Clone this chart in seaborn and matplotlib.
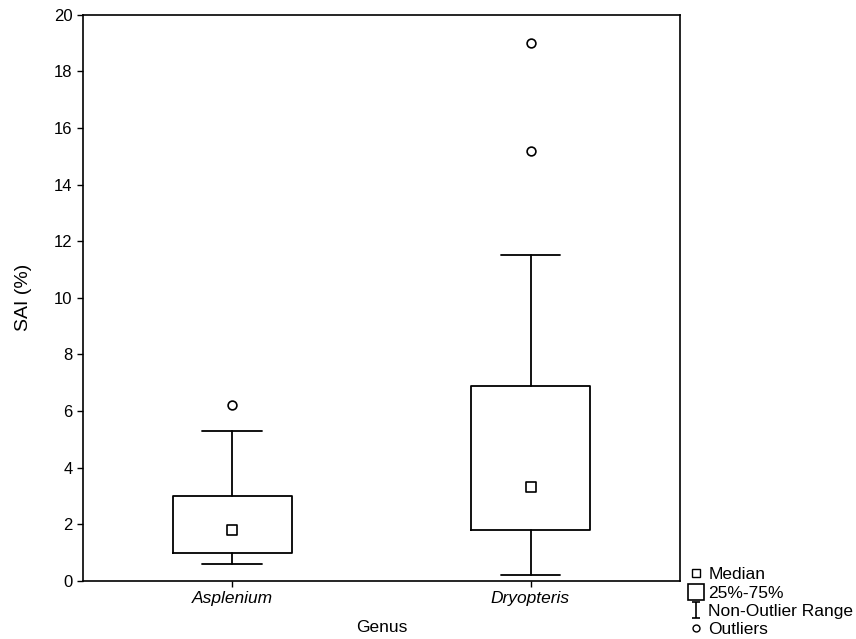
import seaborn as sns
import numpy as np
import matplotlib.pyplot as plt
from matplotlib.lines import Line2D
from matplotlib.path import Path

# summary values
genus = ['Asplenium', 'Dryopteris']
medians = [1.8, 3.3]
q1 = [1.0, 1.8]
q3 = [3.0, 6.9]
whis_low = [0.6, 0.2]
whis_high = [5.3, 11.5]
outlier_genus = ['Asplenium', 'Dryopteris', 'Dryopteris']
outlier_vals = [6.2, 15.2, 19.0]

sns.set_style('ticks')
plt.rcParams['font.family'] = ['Liberation Sans', 'DejaVu Sans']
plt.rcParams.update({'text.color': 'black', 'axes.labelcolor': 'black',
                     'xtick.color': 'black', 'ytick.color': 'black'})

fig = plt.figure(figsize=(8.56, 6.39), dpi=100)
ax = fig.add_axes([0.097, 0.091, 0.697, 0.886])

stats = []
for i, g in enumerate(genus):
    stats.append({'label': g, 'med': medians[i], 'q1': q1[i], 'q3': q3[i],
                  'whislo': whis_low[i], 'whishi': whis_high[i], 'fliers': []})

lw = 1.3
ax.bxp(stats, positions=range(len(genus)), widths=0.4, capwidths=0.2,
       showfliers=False,
       boxprops=dict(color='black', linewidth=lw),
       whiskerprops=dict(color='black', linewidth=lw),
       capprops=dict(color='black', linewidth=lw),
       medianprops=dict(linewidth=0))

# median squares
sns.scatterplot(x=list(range(len(genus))), y=medians, marker='s', s=50,
                facecolor='white', edgecolor='black', linewidth=1.2,
                zorder=5, ax=ax)
# outliers
ox = [genus.index(g) for g in outlier_genus]
sns.scatterplot(x=ox, y=outlier_vals, marker='o', s=40,
                facecolor='white', edgecolor='black', linewidth=1.2,
                zorder=5, ax=ax)

ax.set_xlim(-0.5, 1.5)
ax.set_ylim(0, 20)
ax.set_yticks(np.arange(0, 21, 2))
ax.set_xticks(range(len(genus)))
ax.set_xticklabels(genus, fontstyle='italic', fontsize=12.5)
ax.tick_params(axis='y', labelsize=12)
ax.tick_params(direction='out', length=4, width=1, color='black')
for s in ax.spines.values():
    s.set_linewidth(1.2)
    s.set_color('black')
ax.set_ylabel('SAI (%)', fontsize=14, labelpad=16)
ax.set_xlabel('Genus', fontsize=12.5, labelpad=10)

# whisker symbol for the legend
whisk = Path([(-0.5, -1), (0.5, -1), (0, -1), (0, 1), (-0.5, 1), (0.5, 1)],
             [Path.MOVETO, Path.LINETO, Path.MOVETO, Path.LINETO,
              Path.MOVETO, Path.LINETO])

handles = [
    Line2D([], [], ls='', marker='s', ms=6, mfc='white', mec='black', mew=1.0),
    Line2D([], [], ls='', marker='s', ms=11, mfc='white', mec='black', mew=1.2),
    Line2D([], [], ls='', marker=whisk, ms=12, color='black', mew=1.2),
    Line2D([], [], ls='', marker='o', ms=5, mfc='white', mec='black', mew=1.0),
]
labels = ['Median', '25%-75%', 'Non-Outlier Range', 'Outliers']
fig.legend(handles, labels, loc='lower left', bbox_to_anchor=(0.797, -0.008),
           frameon=False, fontsize=12.5, handlelength=0.8, handletextpad=0.3,
           labelspacing=0.18, borderaxespad=0)

fig.savefig('out.png', dpi=100)
